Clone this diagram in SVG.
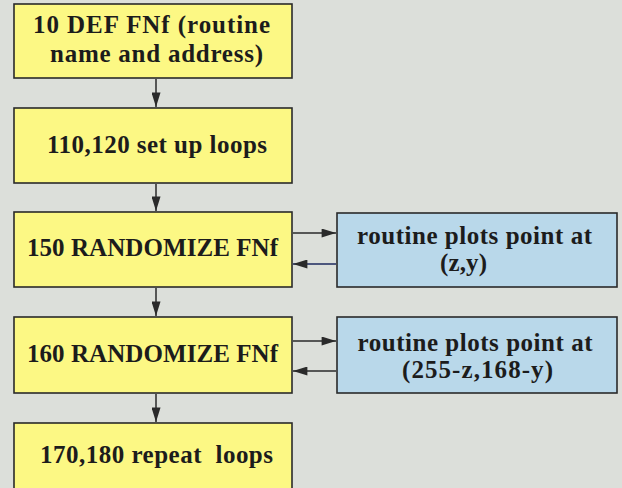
<svg xmlns="http://www.w3.org/2000/svg" width="622" height="488" viewBox="0 0 622 488">
<style>
.bg{fill:#dcdfda}
.y{fill:#fcf884;stroke:#2a2a2a;stroke-width:1.6}
.b{fill:#b9d8ea;stroke:#2a2a2a;stroke-width:1.6}
.t{font-family:"Liberation Serif","Times New Roman",serif;font-weight:bold;font-size:25px;fill:#1c1c1c;white-space:pre}
.c{stroke:#2a2a2a;stroke-width:1.5;fill:none}
</style>
<defs>
<marker id="ah" viewBox="0 0 16 10" refX="16" refY="5" markerWidth="15" markerHeight="9" markerUnits="userSpaceOnUse" orient="auto">
<path d="M0,0 L16,5 L0,10 Z" fill="#2a2a2a"/>
</marker>
</defs>
<rect class="bg" x="0" y="0" width="622" height="488"/>
<g id="connectors">
<line class="c" x1="156" y1="79" x2="156" y2="107" marker-end="url(#ah)"/>
<line class="c" x1="156" y1="184" x2="156" y2="211" marker-end="url(#ah)"/>
<line class="c" x1="156" y1="288" x2="156" y2="316" marker-end="url(#ah)"/>
<line class="c" x1="156" y1="394" x2="156" y2="422" marker-end="url(#ah)"/>
<line class="c" x1="293" y1="233" x2="336" y2="233" marker-end="url(#ah)"/>
<line class="c" x1="336" y1="264" x2="293" y2="264" marker-end="url(#ah)" style="stroke:#1e2a5e"/>
<line class="c" x1="293" y1="341" x2="336" y2="341" marker-end="url(#ah)"/>
<line class="c" x1="336" y1="371" x2="293" y2="371" marker-end="url(#ah)"/>
</g>
<g id="n10">
<rect class="y" x="14" y="4" width="278" height="74"/>
<text class="t" x="151.5" y="33" text-anchor="middle" textLength="237">10 DEF FNf (routine</text>
<text class="t" x="156.5" y="62" text-anchor="middle" textLength="213">name and address)</text>
</g>
<g id="n110">
<rect class="y" x="14" y="108" width="278" height="75"/>
<text class="t" x="157" y="153" text-anchor="middle" textLength="220">110,120 set up loops</text>
</g>
<g id="n150">
<rect class="y" x="14" y="212" width="278" height="75"/>
<text class="t" x="152.5" y="256" text-anchor="middle" textLength="251">150 RANDOMIZE FNf</text>
</g>
<g id="n160">
<rect class="y" x="14" y="317" width="278" height="76"/>
<text class="t" x="152.5" y="362" text-anchor="middle" textLength="251">160 RANDOMIZE FNf</text>
</g>
<g id="n170">
<rect class="y" x="14" y="423" width="278" height="70"/>
<text class="t" x="156.5" y="463" text-anchor="middle" textLength="233">170,180 repeat  loops</text>
</g>
<g id="plot1">
<rect class="b" x="337" y="213" width="280" height="74"/>
<text class="t" x="474.5" y="244" text-anchor="middle" textLength="235">routine plots point at</text>
<text class="t" x="463.5" y="271" text-anchor="middle" textLength="47">(z,y)</text>
</g>
<g id="plot2">
<rect class="b" x="337" y="317" width="280" height="76"/>
<text class="t" x="475" y="351" text-anchor="middle" textLength="235">routine plots point at</text>
<text class="t" x="477.5" y="378" text-anchor="middle" textLength="151">(255-z,168-y)</text>
</g>
</svg>
